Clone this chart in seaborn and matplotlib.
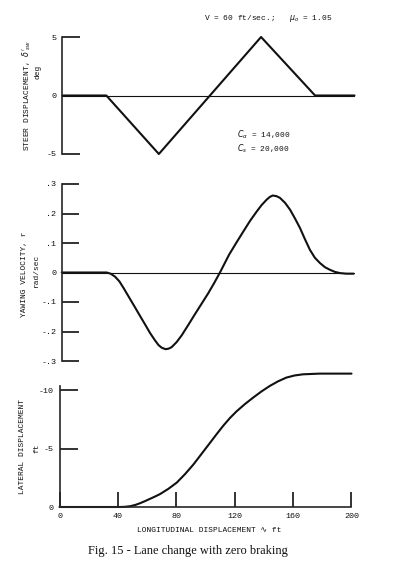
import matplotlib
matplotlib.use("Agg")
import matplotlib.pyplot as plt
import numpy as np
import pandas as pd
import seaborn as sns

# Steer displacement (deg) vs longitudinal displacement (ft)
steer_x = [0, 30, 66, 136, 173, 200]
steer_y = [0, 0, -5, 5, 0, 0]

# Yawing velocity (rad/sec)
yaw_x = [0, 30.8, 33.5, 36.5, 39.5, 42.3, 46, 50.2, 53.5, 57.1, 60.5, 63.9,
         66.3, 68.5, 71.2, 73.3, 75.3, 78.7, 82.2, 86.8, 91.3, 95.8, 100.4,
         104.4, 108.4, 111.5, 114.6, 119.5, 124.4, 129, 133.6, 137, 140.4,
         142.5, 144.5, 147, 149.5, 153, 156.4, 159.8, 163.2, 166.6, 170,
         173.4, 176.9, 180.3, 183.8, 187.2, 190.6, 195, 200]
yaw_y = [0, 0, -0.004, -0.014, -0.03, -0.052, -0.083, -0.118, -0.146,
         -0.176, -0.205, -0.23, -0.246, -0.255, -0.26, -0.258, -0.253,
         -0.236, -0.213, -0.177, -0.141, -0.106, -0.07, -0.036, 0, 0.03,
         0.06, 0.1, 0.139, 0.175, 0.207, 0.229, 0.247, 0.256, 0.261, 0.259,
         0.253, 0.236, 0.213, 0.183, 0.151, 0.113, 0.077, 0.05, 0.032,
         0.018, 0.009, 0.002, -0.002, -0.004, -0.004]

# Lateral displacement (ft)
lat_x = [0, 41.6, 45, 48.5, 52, 55.3, 58.5, 62, 65.5, 68.9, 74.5, 80.3, 86,
         91.7, 97.4, 103.1, 107.6, 112.2, 116.7, 121.3, 127, 132.6, 138.3,
         144, 149.7, 155.4, 161, 166.8, 178.2, 200]
lat_y = [0, 0, -0.02, -0.07, -0.18, -0.33, -0.5, -0.7, -0.9, -1.11, -1.55,
         -2.09, -2.82, -3.64, -4.57, -5.5, -6.24, -6.97, -7.62, -8.2, -8.82,
         -9.37, -9.9, -10.37, -10.77, -11.09, -11.27, -11.37, -11.43, -11.43]

steer_ticks = [5, 0, -5]
steer_labels = ["5", "0", "-5"]
yaw_ticks = [0.3, 0.2, 0.1, 0, -0.1, -0.2, -0.3]
yaw_labels = [".3", ".2", ".1", "0", "-.1", "-.2", "-.3"]
lat_ticks = [-10, -5, 0]
lat_labels = ["-10", "-5", "0"]
x_ticks = [0, 40, 80, 120, 160, 200]
x_labels = ["0", "40", "80", "120", "160", "200"]

sns.set_style("ticks")
mono = ["Liberation Mono", "DejaVu Sans Mono", "DejaVu Sans"]
plt.rcParams["font.family"] = mono
plt.rcParams["mathtext.fontset"] = "dejavusans"
plt.rcParams["axes.linewidth"] = 1.2

W, H = 396, 562
fig = plt.figure(figsize=(W / 100, H / 100), dpi=100)


def frac(px, py):
    return px / W, 1 - py / H


def make_axes(left_px, top_px, bottom_px):
    l, t = frac(left_px, top_px)
    _, b = frac(left_px, bottom_px)
    return fig.add_axes([l, b, 292 / W, t - b])


ink = "#111111"
tick_kw = dict(direction="in", width=1.2, colors=ink, labelsize=6, pad=4)

# --- steer panel ---
ax1 = make_axes(62.5, 37, 154)
sns.lineplot(data=pd.DataFrame({"x": steer_x, "y": steer_y}), x="x", y="y",
             ax=ax1, color=ink, linewidth=1.5)
ax1.axhline(0, color=ink, linewidth=0.8)
ax1.set_xlim(0, 200)
ax1.set_ylim(-5, 5)
ax1.set_yticks(steer_ticks, steer_labels)
ax1.set_xticks([])
ax1.tick_params(axis="y", length=13, **tick_kw)
for s in ["top", "right", "bottom"]:
    ax1.spines[s].set_visible(False)

# --- yaw panel ---
ax2 = make_axes(61.7, 184, 361)
sns.lineplot(data=pd.DataFrame({"x": yaw_x, "y": yaw_y}), x="x", y="y",
             ax=ax2, color=ink, linewidth=1.5)
ax2.axhline(0, color=ink, linewidth=0.8)
ax2.set_xlim(0, 200)
ax2.set_ylim(-0.3, 0.3)
ax2.set_yticks(yaw_ticks, yaw_labels)
ax2.set_xticks([])
ax2.tick_params(axis="y", length=12, **tick_kw)
for s in ["top", "right", "bottom"]:
    ax2.spines[s].set_visible(False)

# --- lateral panel ---
ax3 = make_axes(59.5, 372.8, 507)
sns.lineplot(data=pd.DataFrame({"x": lat_x, "y": lat_y}), x="x", y="y",
             ax=ax3, color=ink, linewidth=1.5)
ax3.set_xlim(0, 200)
ax3.set_ylim(0, -11.5)
ax3.set_yticks(lat_ticks, lat_labels)
ax3.set_xticks(x_ticks, x_labels)
ax3.tick_params(axis="y", length=13, **tick_kw)
ax3.tick_params(axis="x", length=11, **tick_kw)
ax3.spines["left"].set_bounds(0, -10.4)
for s in ["top", "right"]:
    ax3.spines[s].set_visible(False)

for ax in (ax1, ax2, ax3):
    ax.set_xlabel("")
    ax.set_ylabel("")
    for ln in ax.lines:
        ln.set_clip_on(False)

# --- texts ---
fs = 5.7
fig.text(*frac(204, 19), r"V = 60 ft/sec.;   $\mu_o$ = 1.05", fontsize=fs,
         ha="left", va="center", color=ink)
fig.text(*frac(237, 135), r"$C_\alpha$ = 14,000", fontsize=fs,
         ha="left", va="center", color=ink)
fig.text(*frac(237, 149), r"$C_s$ = 20,000", fontsize=fs,
         ha="left", va="center", color=ink)

fig.text(*frac(27, 95), r"STEER DISPLACEMENT, $\delta'_{sw}$", fontsize=fs,
         rotation=90, ha="center", va="center", color=ink)
fig.text(*frac(38, 72), "deg", fontsize=fs, rotation=90,
         ha="center", va="center", color=ink)
fig.text(*frac(25, 274), "YAWING VELOCITY, r", fontsize=fs,
         rotation=90, ha="center", va="center", color=ink)
fig.text(*frac(37, 271), "rad/sec", fontsize=fs, rotation=90,
         ha="center", va="center", color=ink)
fig.text(*frac(23, 447), "LATERAL DISPLACEMENT", fontsize=fs,
         rotation=90, ha="center", va="center", color=ink)
fig.text(*frac(37, 448), "ft", fontsize=fs, rotation=90,
         ha="center", va="center", color=ink)

fig.text(*frac(209, 530), "LONGITUDINAL DISPLACEMENT \u223f ft", fontsize=fs,
         ha="center", va="center", color=ink)
fig.text(*frac(188, 551), "Fig. 15 - Lane change with zero braking",
         fontsize=8.9, family=["Liberation Serif", "DejaVu Serif"],
         ha="center", va="center", color=ink)

fig.savefig("out.png", dpi=100, facecolor="white")
